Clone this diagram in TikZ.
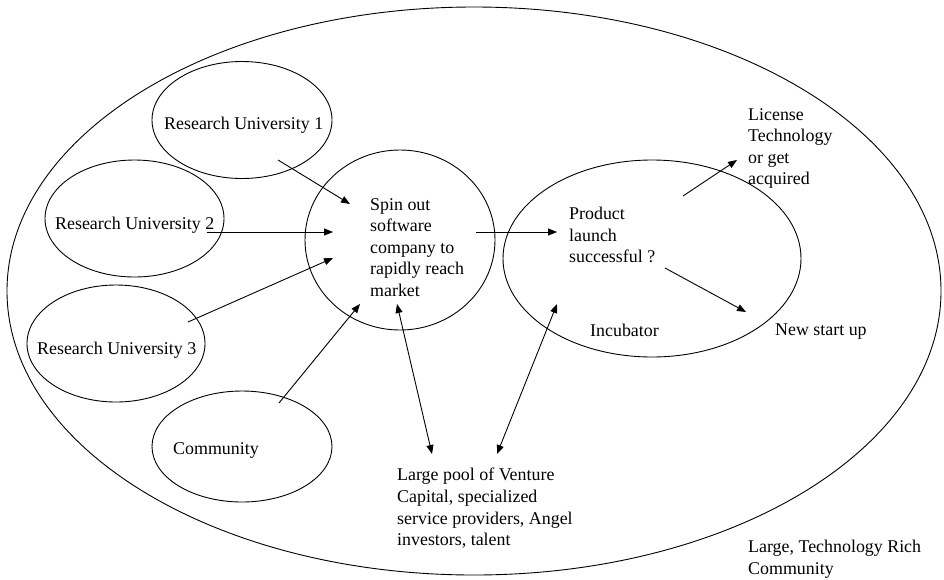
\documentclass[tikz,border=0pt]{standalone}
\usepackage{fontspec}
\setmainfont{Liberation Serif}
\usetikzlibrary{arrows.meta,shapes.geometric}
\begin{document}
\begin{tikzpicture}[x=1pt,y=-1pt,
  oval/.style={draw,ellipse,line width=0.9pt,inner sep=0pt},
  lbl/.style={anchor=north west,inner sep=0pt,align=left,font=\fontsize{17.9pt}{21.6pt}\selectfont},
  arr/.style={line width=0.9pt,-{Triangle[length=9pt,width=7pt]}},
  darr/.style={line width=0.9pt,{Triangle[length=9pt,width=7pt]}-{Triangle[length=9pt,width=7pt]}}]
\useasboundingbox (0,0) rectangle (944,579);
% ellipses
\node[oval,minimum width=934pt,minimum height=568pt] (world) at (474,291) {};
\node[oval,minimum width=180pt,minimum height=117pt] (ru1) at (242,120) {};
\node[oval,minimum width=179pt,minimum height=117pt] (ru2) at (134.5,218.5) {};
\node[oval,minimum width=178pt,minimum height=117pt] (ru3) at (116,343.5) {};
\node[oval,minimum width=180pt,minimum height=111pt] (comm) at (242,446.5) {};
\node[oval,minimum width=190pt,minimum height=180pt] (spin) at (400,240) {};
\node[oval,minimum width=298pt,minimum height=197pt] (incu) at (652,258.5) {};
% texts
\node[lbl] (t1) at (164,117) {Research University 1};
\node[lbl] (t2) at (55,217) {Research University 2};
\node[lbl] (t3) at (37,342) {Research University 3};
\node[lbl] (tc) at (173,442) {Community};
\node[lbl] (tspin) at (370,198) {Spin out\\software\\company to\\rapidly reach\\market};
\node[lbl] (tprod) at (569,207) {Product\\launch\\successful ?};
\node[lbl] (tinc) at (590,324) {Incubator};
\node[lbl] (tnew) at (775,324) {New start up};
\node[lbl] (tlic) at (748,108) {License\\Technology\\or get\\acquired};
\node[lbl] (tpool) at (397,468) {Large pool of Venture\\Capital, specialized\\service providers, Angel\\investors, talent};
\node[lbl] (tworld) at (748,540) {Large, Technology Rich\\Community};
% connector end points
\coordinate (a1s) at (278,160); \coordinate (a1e) at (350,204);
\coordinate (a2s) at (207,232); \coordinate (a2e) at (333,232);
\coordinate (a3s) at (188,322); \coordinate (a3e) at (333,258);
\coordinate (a4s) at (279,403); \coordinate (a4e) at (360,304);
\coordinate (a5s) at (476,232); \coordinate (a5e) at (557,232);
\coordinate (a6s) at (683,196); \coordinate (a6e) at (737,160);
\coordinate (a7s) at (665,268); \coordinate (a7e) at (746,312);
\coordinate (d1s) at (397,304); \coordinate (d1e) at (432,454);
\coordinate (d2s) at (557,304); \coordinate (d2e) at (497,454);
\draw[arr] (a1s) -- (a1e);
\draw[arr] (a2s) -- (a2e);
\draw[arr] (a3s) -- (a3e);
\draw[arr] (a4s) -- (a4e);
\draw[arr] (a5s) -- (a5e);
\draw[arr] (a6s) -- (a6e);
\draw[arr] (a7s) -- (a7e);
\draw[darr] (d1s) -- (d1e);
\draw[darr] (d2s) -- (d2e);
\end{tikzpicture}
\end{document}
